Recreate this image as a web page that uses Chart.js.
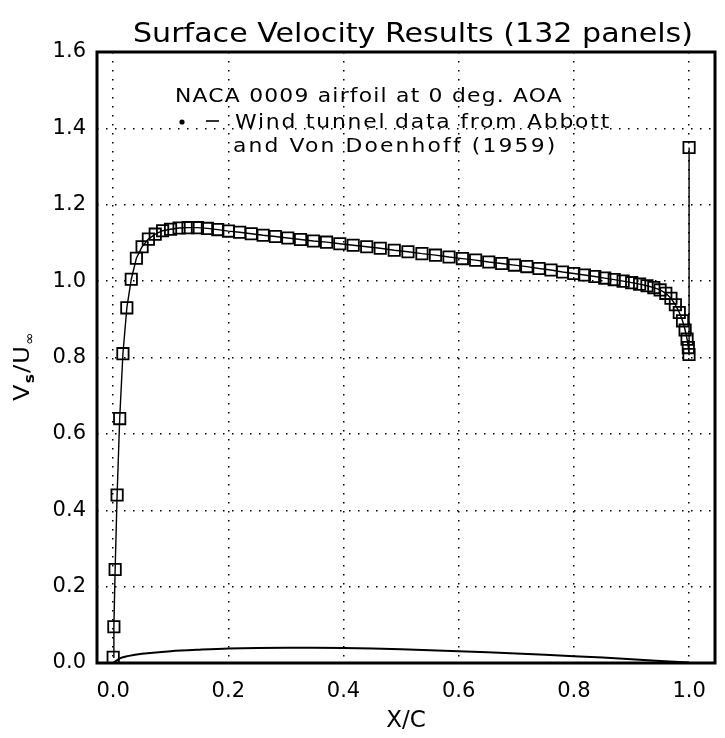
<!DOCTYPE html>
<html>
<head>
<meta charset="utf-8">
<script src="https://cdn.jsdelivr.net/npm/chart.js@4/dist/chart.umd.min.js"></script>
<style>
  html, body { margin: 0; padding: 0; background: #fff; }
  #wrap { width: 725px; height: 738px; }
</style>
</head>
<body>
<div id="wrap"><canvas id="chart" width="725" height="738"></canvas></div>
<script>
// panel control points, x/c
var xPanel = [0.0001, 0.0013, 0.0035, 0.0069, 0.0114, 0.0170, 0.0238, 0.0315, 0.0404, 0.0503,
  0.0612, 0.0731, 0.0859, 0.0997, 0.1145, 0.1300, 0.1464, 0.1637, 0.1817, 0.2003,
  0.2197, 0.2398, 0.2605, 0.2817, 0.3033, 0.3254, 0.3478, 0.3706, 0.3936, 0.4168,
  0.4403, 0.4638, 0.4881, 0.5119, 0.5362, 0.5597, 0.5832, 0.6064, 0.6294, 0.6522,
  0.6746, 0.6967, 0.7183, 0.7395, 0.7602, 0.7803, 0.7997, 0.8183, 0.8363, 0.8536,
  0.8700, 0.8855, 0.9003, 0.9141, 0.9269, 0.9388, 0.9497, 0.9596, 0.9685, 0.9762,
  0.9830, 0.9886, 0.9931, 0.9965, 0.9987, 0.9999, 1.0000];
// Vs/Uinf at those points
var vPanel = [0.015, 0.095, 0.245, 0.440, 0.640, 0.810, 0.930, 1.005, 1.060, 1.090,
  1.110, 1.123, 1.132, 1.136, 1.139, 1.140, 1.140, 1.138, 1.135, 1.131,
  1.128, 1.124, 1.120, 1.117, 1.113, 1.109, 1.105, 1.102, 1.098, 1.094,
  1.090, 1.086, 1.081, 1.077, 1.072, 1.068, 1.063, 1.059, 1.055, 1.050,
  1.046, 1.042, 1.038, 1.033, 1.029, 1.024, 1.020, 1.016, 1.012, 1.008,
  1.004, 1.000, 0.996, 0.992, 0.988, 0.983, 0.977, 0.968, 0.955, 0.938,
  0.918, 0.896, 0.872, 0.848, 0.826, 0.808, 1.350];

// airfoil outline (upper surface) drawn along the bottom
var xFoil = [0.0, 0.0125, 0.025, 0.05, 0.1, 0.15, 0.2, 0.3, 0.4, 0.5, 0.6, 0.7, 0.8, 0.9, 1.0];
var yFoil = [0.0, 0.013, 0.018, 0.024, 0.031, 0.035, 0.038, 0.040, 0.039, 0.036, 0.031, 0.025, 0.018, 0.010, 0.001];

var xTicks = [0.0, 0.2, 0.4, 0.6, 0.8, 1.0];

var titleText = 'Surface Velocity Results (132 panels)';
var noteLines = [
  'NACA 0009 airfoil at 0 deg. AOA',
  'Wind tunnel data from Abbott',
  'and Von Doenhoff (1959)'
];

var FONT = "'DejaVu Sans', sans-serif";

var toPts = function (xs, ys) {
  return xs.map(function (x, i) { return {x: x, y: ys[i]}; });
};

// write text widened to a given width: stretch the glyphs a little, space out the rest
var fitText = function (ctx, text, x, y, width) {
  ctx.letterSpacing = '0px';
  var w = ctx.measureText(text).width;
  var s = Math.min(1.15, width / w);
  var gap = (width / s - w) / text.length;
  ctx.save();
  ctx.translate(x, y);
  ctx.scale(s, 1);
  ctx.letterSpacing = gap + 'px';
  ctx.fillText(text, 0, 0);
  ctx.restore();
};

// box round the plot, title, note block and the y title
var decor = {
  id: 'decor',
  afterDraw: function (chart) {
    var ctx = chart.ctx, a = chart.chartArea;
    ctx.save();
    ctx.strokeStyle = '#000';
    ctx.lineWidth = 3;
    ctx.strokeRect(a.left, a.top, a.right - a.left, a.bottom - a.top);

    ctx.fillStyle = '#000';
    ctx.textBaseline = 'alphabetic';
    ctx.font = '27px ' + FONT;
    fitText(ctx, titleText, 133, 42, 560);

    ctx.font = '19px ' + FONT;
    fitText(ctx, noteLines[0], 175, 102, 388);
    fitText(ctx, noteLines[1], 235, 128, 376);
    fitText(ctx, noteLines[2], 233, 152, 324);
    // legend symbol: dot and dash
    ctx.beginPath();
    ctx.arc(182, 122, 2.6, 0, Math.PI * 2);
    ctx.fill();
    ctx.lineWidth = 1.6;
    ctx.beginPath();
    ctx.moveTo(206, 121);
    ctx.lineTo(219, 121);
    ctx.stroke();

    // Vs/U(inf), rotated
    ctx.translate(29, 366);
    ctx.rotate(-Math.PI / 2);
    ctx.scale(1.1, 1);
    ctx.letterSpacing = '1px';
    var parts = [
      {t: 'V', f: '22px ', dy: 0},
      {t: 's', f: 'bold 14px ', dy: 5},
      {t: '/U', f: '22px ', dy: 0},
      {t: '\u221E', f: '14px ', dy: 5}
    ];
    var w = 0;
    parts.forEach(function (p) { ctx.font = p.f + FONT; w += ctx.measureText(p.t).width; });
    var x = -w / 2;
    parts.forEach(function (p) {
      ctx.font = p.f + FONT;
      ctx.fillText(p.t, x, p.dy);
      x += ctx.measureText(p.t).width;
    });
    ctx.restore();
  }
};

new Chart(document.getElementById('chart'), {
  type: 'scatter',
  data: {
    datasets: [
      {
        label: 'Panel method',
        data: toPts(xPanel, vPanel),
        showLine: true,
        borderColor: '#000',
        borderWidth: 1.4,
        pointStyle: 'rect',
        pointRadius: 8,
        pointBorderWidth: 1.8,
        pointBorderColor: '#000',
        pointBackgroundColor: 'rgba(0,0,0,0)'
      },
      {
        label: 'Airfoil',
        data: toPts(xFoil, yFoil),
        showLine: true,
        tension: 0.3,
        borderColor: '#000',
        borderWidth: 2,
        pointRadius: 0
      }
    ]
  },
  options: {
    responsive: false,
    animation: false,
    layout: { padding: { top: 52, right: 10, left: 0, bottom: 0 } },
    plugins: {
      legend: { display: false },
      tooltip: { enabled: false },
      title: { display: false }
    },
    scales: {
      x: {
        type: 'linear',
        min: -0.028,
        max: 1.045,
        afterBuildTicks: function (axis) {
          axis.ticks = xTicks.map(function (v) { return {value: v}; });
        },
        afterFit: function (axis) { axis.height = 75; },
        border: { display: false, dash: [1.5, 7.5] },
        grid: { color: '#000', lineWidth: 1.5, drawTicks: false },
        ticks: {
          color: '#000',
          padding: 16,
          font: { family: FONT, size: 21 },
          callback: function (v) { return Number(v).toFixed(1); }
        },
        title: {
          display: true,
          text: 'X/C',
          color: '#000',
          font: { family: FONT, size: 23 },
          padding: { top: 0, bottom: 3 }
        }
      },
      y: {
        min: 0,
        max: 1.6,
        afterFit: function (axis) { axis.width = 97; },
        border: { display: false, dash: [1.5, 7.5] },
        grid: { color: '#000', lineWidth: 1.5, drawTicks: false },
        ticks: {
          stepSize: 0.2,
          color: '#000',
          padding: 11,
          font: { family: FONT, size: 21 },
          callback: function (v) { return Number(v).toFixed(1); }
        }
      }
    }
  },
  plugins: [decor]
});
</script>
</body>
</html>
